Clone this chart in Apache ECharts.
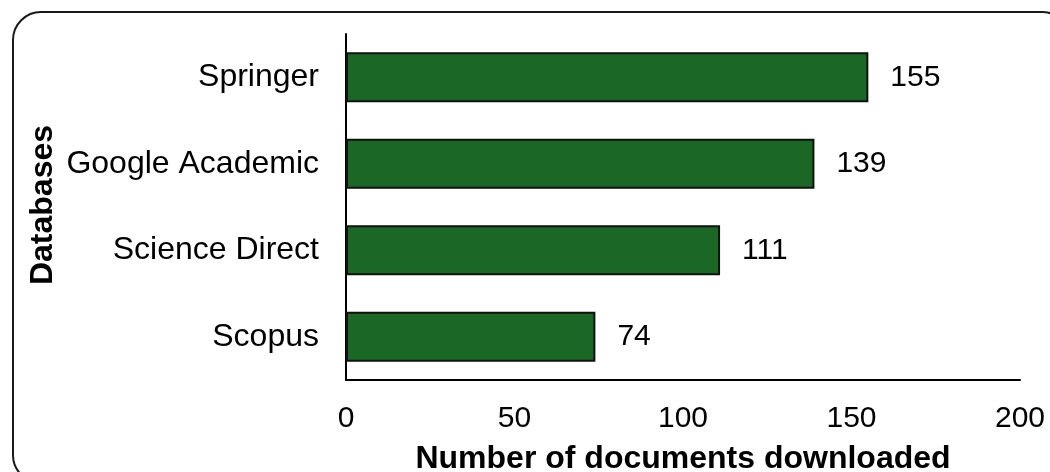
<!DOCTYPE html>
<html>
<head>
<meta charset="utf-8">
<script src="https://cdn.jsdelivr.net/npm/echarts@6/dist/echarts.min.js"></script>
<style>html,body{margin:0;padding:0;background:#fff;}#c{width:1050px;height:472px;}</style>
</head>
<body>
<div id="c"></div>
<script>
const categories = ['Scopus', 'Science Direct', 'Google Academic', 'Springer'];
const values = [74, 111, 139, 155];
const xTicks = { min: 0, max: 200, interval: 50 };

const chart = echarts.init(document.getElementById('c'));
const font = '"Liberation Sans", Arial, sans-serif';
chart.setOption({
  animation: false,
  backgroundColor: '#fff',
  textStyle: { fontFamily: font },
  grid: { left: 346, right: 30, top: 34, bottom: 92, containLabel: false, outerBoundsMode: 'none' },
  graphic: [
    { type: 'rect', shape: { x: 13, y: 12, width: 1057, height: 471, r: 28 },
      style: { fill: 'none', stroke: '#1a1a1a', lineWidth: 2 }, z: 100 },
    { type: 'text', rotation: Math.PI / 2, x: 43, y: 205,
      style: { text: 'Databases', font: 'bold 32px ' + font, fill: '#000',
               align: 'center', verticalAlign: 'middle' } }
  ],
  xAxis: {
    type: 'value', min: xTicks.min, max: xTicks.max, interval: xTicks.interval,
    name: 'Number of documents downloaded', nameLocation: 'middle', nameGap: 63,
    nameTextStyle: { fontSize: 32, fontWeight: 'bold', color: '#000', fontFamily: font },
    axisLine: { show: true, lineStyle: { color: '#000', width: 2 } },
    axisTick: { show: false },
    splitLine: { show: false },
    axisLabel: { fontSize: 30, color: '#000', margin: 24, fontFamily: font }
  },
  yAxis: {
    type: 'category', data: categories,
    axisLine: { show: true, lineStyle: { color: '#000', width: 2 } },
    axisTick: { show: false },
    axisLabel: { fontSize: 32, color: '#000', margin: 27, fontFamily: font }
  },
  series: [{
    type: 'bar', data: values, barWidth: 50,
    itemStyle: { color: '#1b6826', borderColor: '#111', borderWidth: 2 },
    label: { show: true, position: 'right', distance: 22, fontSize: 30, color: '#000', fontFamily: font }
  }]
});
</script>
</body>
</html>
